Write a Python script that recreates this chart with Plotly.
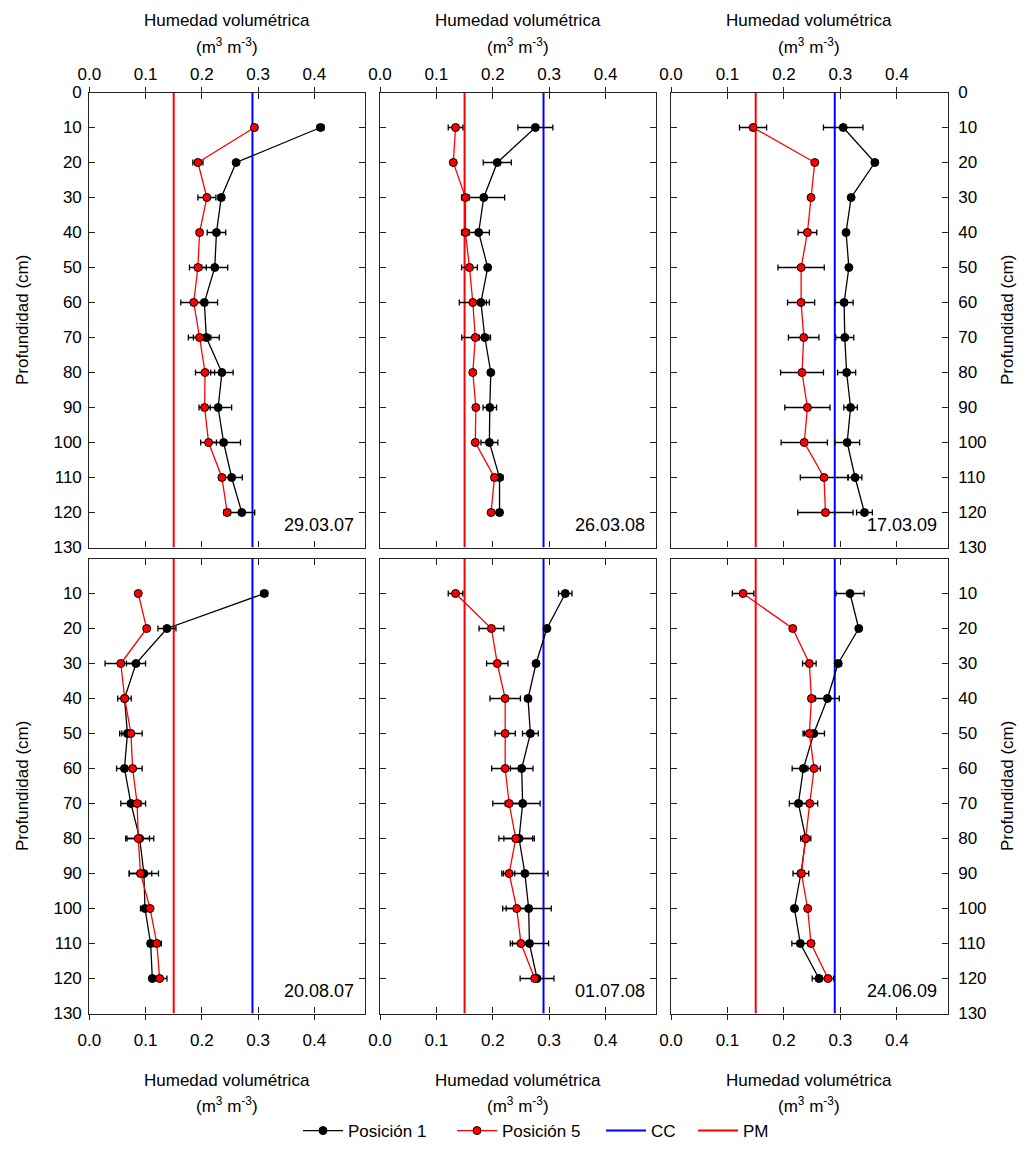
import plotly.graph_objects as go

# ---------------- data ----------------
depths = [10, 20, 30, 40, 50, 60, 70, 80, 90, 100, 110, 120]
dates = ["29.03.07", "26.03.08", "17.03.09", "20.08.07", "01.07.08", "24.06.09"]
CC = 0.29
PM = 0.15
x_ticks = [0.0, 0.1, 0.2, 0.3, 0.4]

# Posición 1 (black) means and errors, per panel
pos1 = [
    [0.411, 0.261, 0.2345, 0.226, 0.223, 0.2045, 0.208, 0.2357, 0.229, 0.2387, 0.253, 0.271],
    [0.2755, 0.208, 0.184, 0.175, 0.191, 0.179, 0.186, 0.1965, 0.1947, 0.194, 0.212, 0.212],
    [0.305, 0.361, 0.319, 0.310, 0.315, 0.3066, 0.3077, 0.311, 0.318, 0.312, 0.326, 0.3426],
    [0.311, 0.138, 0.083, 0.0625, 0.0678, 0.0625, 0.074, 0.0896, 0.097, 0.099, 0.109, 0.112],
    [0.3286, 0.296, 0.2767, 0.2625, 0.2667, 0.2513, 0.253, 0.2466, 0.257, 0.2637, 0.265, 0.2785],
    [0.317, 0.3325, 0.296, 0.277, 0.2528, 0.2345, 0.2256, 0.2386, 0.230, 0.2186, 0.229, 0.262],
]
pos1_err = [
    [0.006, 0.003, 0.005, 0.0165, 0.023, 0.0235, 0.023, 0.02, 0.024, 0.03, 0.019, 0.023],
    [0.031, 0.025, 0.037, 0.019, 0.003, 0.015, 0.01, 0.004, 0.012, 0.015, 0.006, 0.004],
    [0.035, 0.003, 0.003, 0.004, 0.003, 0.016, 0.016, 0.016, 0.012, 0.022, 0.012, 0.014],
    [0.006, 0.016, 0.017, 0.012, 0.01, 0.014, 0.018, 0.025, 0.026, 0.008, 0.005, 0.003],
    [0.012, 0.003, 0.005, 0.005, 0.014, 0.02, 0.031, 0.027, 0.041, 0.04, 0.034, 0.03],
    [0.025, 0.003, 0.006, 0.021, 0.019, 0.02, 0.016, 0.009, 0.014, 0.003, 0.015, 0.012],
]
# Posición 5 (red)
pos5 = [
    [0.2935, 0.193, 0.209, 0.196, 0.193, 0.1856, 0.196, 0.2057, 0.205, 0.212, 0.2357, 0.245],
    [0.134, 0.130, 0.1516, 0.1516, 0.1587, 0.1646, 0.169, 0.1646, 0.17, 0.169, 0.203, 0.197],
    [0.1453, 0.2546, 0.248, 0.2416, 0.2304, 0.2304, 0.235, 0.232, 0.2416, 0.236, 0.271, 0.2735],
    [0.087, 0.102, 0.056, 0.063, 0.074, 0.077, 0.085, 0.087, 0.091, 0.108, 0.120, 0.125],
    [0.134, 0.1976, 0.208, 0.222, 0.222, 0.222, 0.229, 0.2407, 0.229, 0.2425, 0.250, 0.2743],
    [0.1276, 0.2156, 0.245, 0.2487, 0.245, 0.2534, 0.2457, 0.2386, 0.231, 0.242, 0.248, 0.278],
]
pos5_err = [
    [0.0, 0.009, 0.016, 0.003, 0.015, 0.023, 0.02, 0.017, 0.01, 0.014, 0.005, 0.006],
    [0.013, 0.003, 0.007, 0.007, 0.014, 0.024, 0.024, 0.004, 0.003, 0.003, 0.005, 0.004],
    [0.024, 0.003, 0.004, 0.0165, 0.041, 0.024, 0.027, 0.038, 0.04, 0.041, 0.042, 0.049],
    [0.002, 0.004, 0.028, 0.005, 0.02, 0.017, 0.015, 0.02, 0.02, 0.003, 0.008, 0.013],
    [0.013, 0.022, 0.019, 0.027, 0.018, 0.024, 0.029, 0.03, 0.01, 0.025, 0.015, 0.003],
    [0.019, 0.004, 0.012, 0.003, 0.009, 0.011, 0.014, 0.004, 0.005, 0.003, 0.005, 0.01],
]

# ---------------- layout geometry ----------------
# The page body has an 8px margin, so the figure is placed at (8, 8) in the window.
OFF = 8
W, H = 1010, 1134
FONT = "Liberation Sans, Arial, sans-serif"
col_px = [(89.3, 365.0), (380.0, 656.3), (671.0, 947.7)]   # window pixels
row_px = [(92.5, 547.5), (558.5, 1013.5)]
XMAX = 0.49

def fx(px):
    return (px - OFF) / W

def fy(py):
    return 1 - (py - OFF) / H

def xdom(c):
    a, b = col_px[c]
    return [fx(a), fx(b)]

def ydom(r):
    a, b = row_px[r]
    return [fy(b), fy(a)]

fig = go.Figure()
legend_y = fy(1131)
leg_common = dict(orientation="h", xanchor="left", y=legend_y, yanchor="middle",
                  font=dict(size=17), bgcolor="rgba(0,0,0,0)", borderwidth=0, itemwidth=40)
legend_x = [303, 457, 606, 698]   # window px where each legend line sample starts
LEG_SHIFT = 5
layout = dict(
    width=W, height=H,
    margin=dict(l=0, r=0, t=0, b=0, autoexpand=False),
    paper_bgcolor="white", plot_bgcolor="white",
    font=dict(family=FONT, size=17, color="black"),
    showlegend=True,
    legend=dict(x=fx(legend_x[0] - LEG_SHIFT), **leg_common),
    legend2=dict(x=fx(legend_x[1] - LEG_SHIFT), **leg_common),
    legend3=dict(x=fx(legend_x[2] - LEG_SHIFT), **leg_common),
    legend4=dict(x=fx(legend_x[3] - LEG_SHIFT), **leg_common),
)
annotations = []

for i in range(6):
    r, c = divmod(i, 3)
    n = i + 1
    xa = "x" if n == 1 else f"x{n}"
    ya = "y" if n == 1 else f"y{n}"
    first = (i == 0)

    # reference lines
    fig.add_trace(go.Scatter(x=[CC, CC], y=[0, 130], mode="lines", name="CC",
                             line=dict(color="#0000ff", width=2), xaxis=xa, yaxis=ya,
                             showlegend=first, legend="legend3", hoverinfo="skip"))
    fig.add_trace(go.Scatter(x=[PM, PM], y=[0, 130], mode="lines", name="PM",
                             line=dict(color="#ff0000", width=2), xaxis=xa, yaxis=ya,
                             showlegend=first, legend="legend4", hoverinfo="skip"))
    # Posición 1
    fig.add_trace(go.Scatter(x=pos1[i], y=depths, mode="lines+markers", name="Posición 1",
                             line=dict(color="black", width=1.3),
                             marker=dict(color="black", size=8, line=dict(color="black", width=1)),
                             error_x=dict(type="data", array=pos1_err[i], color="black",
                                          thickness=1.3, width=3),
                             xaxis=xa, yaxis=ya, showlegend=first, legend="legend"))
    # Posición 5
    fig.add_trace(go.Scatter(x=pos5[i], y=depths, mode="lines+markers", name="Posición 5",
                             line=dict(color="#ff0000", width=1.3),
                             marker=dict(color="#ff0000", size=8, line=dict(color="black", width=1)),
                             error_x=dict(type="data", array=pos5_err[i], color="black",
                                          thickness=1.3, width=3),
                             xaxis=xa, yaxis=ya, showlegend=first, legend="legend2"))

    xside = "top" if r == 0 else "bottom"
    layout["xaxis" if n == 1 else f"xaxis{n}"] = dict(
        domain=xdom(c), anchor=ya, range=[0, XMAX], side=xside,
        tickvals=x_ticks, tickformat=".1f", ticks="inside", ticklen=6,
        tickcolor="#222", tickwidth=1.2,
        showline=True, linecolor="#222", linewidth=1.2, mirror="ticks",
        showgrid=False, zeroline=False, ticklabelstandoff=5 if r == 0 else 11,
        tickfont=dict(size=17), automargin=False,
    )
    # overlay axis: short outside ticks on labelled side
    m = n + 6
    layout[f"xaxis{m}"] = dict(
        overlaying=xa, anchor=ya, range=[0, XMAX], side=xside,
        tickvals=x_ticks, ticks="outside", ticklen=5, tickcolor="#222", tickwidth=1.2,
        showticklabels=False, showline=False, showgrid=False, zeroline=False,
        automargin=False,
    )
    fig.add_trace(go.Scatter(x=[None], y=[None], xaxis=f"x{m}", yaxis=ya,
                             showlegend=False, hoverinfo="skip"))

    yticks = list(range(0, 131, 10)) if r == 0 else list(range(10, 131, 10))
    layout["yaxis" if n == 1 else f"yaxis{n}"] = dict(
        domain=ydom(r), anchor=xa, range=[130, 0],
        side="right" if c == 2 else "left",
        showticklabels=(c != 1),
        tickvals=yticks, ticks="inside", ticklen=6, tickcolor="#222", tickwidth=1.2,
        showline=True, linecolor="#222", linewidth=1.2, mirror="ticks",
        showgrid=False, zeroline=False, ticklabelstandoff=3 if c == 0 else 6,
        tickfont=dict(size=17), automargin=False,
    )

    # date label
    annotations.append(dict(text=dates[i], x=0.474, y=123.7, xref=xa, yref=ya,
                            xanchor="right", yanchor="middle", showarrow=False,
                            font=dict(size=18)))

# axis titles
for c in range(3):
    a, b = col_px[c]
    xc = fx((a + b) / 2)
    for (y1, y2) in [(21, 46), (1080, 1105)]:
        annotations.append(dict(text="Humedad volumétrica", x=xc, y=fy(y1), xref="paper", yref="paper",
                                xanchor="center", yanchor="middle", showarrow=False, font=dict(size=17)))
        annotations.append(dict(text="(m<sup>3</sup> m<sup>-3</sup>)", x=xc, y=fy(y2), xref="paper", yref="paper",
                                xanchor="center", yanchor="middle", showarrow=False, font=dict(size=17)))
for r in range(2):
    a, b = row_px[r]
    yc = fy((a + b) / 2)
    for xpx in (22, 1007):
        annotations.append(dict(text="Profundidad (cm)", x=fx(xpx), y=yc, xref="paper", yref="paper",
                                xanchor="center", yanchor="middle", textangle=-90, showarrow=False,
                                font=dict(size=17)))

layout["annotations"] = annotations
fig.update_layout(**layout)
fig.write_html("out.html")
